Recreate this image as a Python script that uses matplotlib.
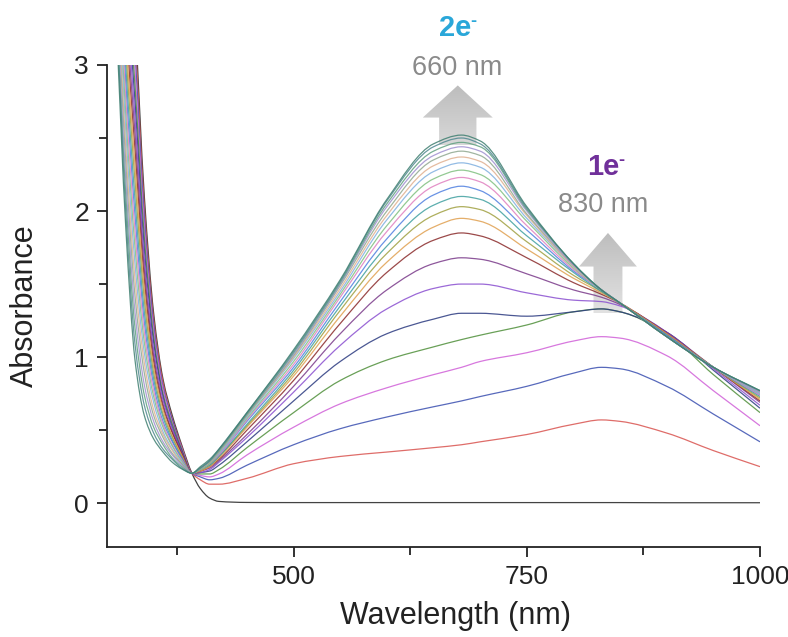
import numpy as np
import matplotlib
matplotlib.use('Agg')
import matplotlib.pyplot as plt
from matplotlib.patches import Polygon, PathPatch
from matplotlib.path import Path
from matplotlib.colors import LinearSegmentedColormap
from matplotlib.ticker import FixedLocator

plt.rcParams['font.family'] = ['Liberation Sans', 'DejaVu Sans']

# wavelength grid (nm); UV part ends at the isosbestic point
wl_uv = [300, 310, 320, 330, 340, 350, 360, 370, 380, 391]
wl_vis = [400, 410, 420, 450, 500, 550, 600, 650, 680, 700, 750, 800, 830, 850, 900, 950, 1000]

# absorbance of each spectrum, first (black) to last
uv_abs = [
    [6.0, 5.2, 4.20, 3.30, 2.10, 1.30, 0.85, 0.60, 0.40, 0.205],
    [5.9, 5.1, 4.09, 3.19, 2.03, 1.26, 0.83, 0.58, 0.39, 0.205],
    [5.8, 5.0, 3.98, 3.08, 1.96, 1.22, 0.80, 0.57, 0.38, 0.205],
    [5.7, 4.9, 3.87, 2.97, 1.89, 1.18, 0.78, 0.55, 0.38, 0.205],
    [5.7, 4.8, 3.76, 2.86, 1.82, 1.14, 0.75, 0.54, 0.37, 0.205],
    [5.6, 4.7, 3.65, 2.75, 1.74, 1.10, 0.73, 0.52, 0.36, 0.205],
    [5.5, 4.6, 3.54, 2.64, 1.67, 1.05, 0.71, 0.51, 0.35, 0.205],
    [5.5, 4.6, 3.43, 2.53, 1.60, 1.01, 0.68, 0.49, 0.35, 0.205],
    [5.4, 4.5, 3.32, 2.42, 1.53, 0.97, 0.66, 0.48, 0.34, 0.205],
    [5.3, 4.4, 3.21, 2.31, 1.46, 0.93, 0.64, 0.46, 0.33, 0.205],
    [5.3, 4.3, 3.11, 2.20, 1.39, 0.89, 0.61, 0.45, 0.32, 0.205],
    [5.2, 4.2, 3.00, 2.08, 1.31, 0.85, 0.59, 0.43, 0.31, 0.205],
    [5.1, 4.1, 2.89, 1.97, 1.24, 0.81, 0.56, 0.42, 0.31, 0.205],
    [5.1, 4.0, 2.78, 1.86, 1.17, 0.77, 0.54, 0.40, 0.30, 0.205],
    [5.0, 3.9, 2.67, 1.75, 1.10, 0.73, 0.52, 0.39, 0.29, 0.205],
    [5.0, 3.8, 2.56, 1.64, 1.03, 0.69, 0.49, 0.37, 0.28, 0.205],
    [4.9, 3.7, 2.45, 1.53, 0.96, 0.64, 0.47, 0.36, 0.27, 0.205],
    [4.9, 3.6, 2.34, 1.42, 0.89, 0.60, 0.45, 0.34, 0.27, 0.205],
    [4.9, 3.5, 2.23, 1.31, 0.81, 0.56, 0.42, 0.33, 0.26, 0.205],
    [4.8, 3.4, 2.12, 1.20, 0.74, 0.52, 0.40, 0.31, 0.25, 0.205],
    [4.8, 3.4, 2.01, 1.09, 0.67, 0.48, 0.37, 0.30, 0.24, 0.205],
    [4.8, 3.3, 1.90, 0.98, 0.60, 0.44, 0.35, 0.28, 0.235, 0.205],
]

vis_abs = [
    [0.10, 0.035, 0.012, 0.005, 0.004, 0.004, 0.004, 0.004, 0.004, 0.004, 0.004, 0.004, 0.004, 0.004, 0.003, 0.003, 0.003],
    [0.16, 0.13, 0.13, 0.17, 0.27, 0.32, 0.35, 0.38, 0.40, 0.42, 0.47, 0.54, 0.57, 0.56, 0.48, 0.36, 0.25],
    [0.18, 0.16, 0.17, 0.26, 0.40, 0.51, 0.59, 0.66, 0.70, 0.73, 0.80, 0.89, 0.93, 0.92, 0.80, 0.61, 0.42],
    [0.19, 0.18, 0.20, 0.33, 0.52, 0.68, 0.79, 0.88, 0.93, 0.97, 1.03, 1.11, 1.14, 1.13, 1.01, 0.77, 0.53],
    [0.20, 0.20, 0.23, 0.38, 0.62, 0.84, 0.98, 1.07, 1.12, 1.15, 1.22, 1.31, 1.33, 1.31, 1.16, 0.88, 0.62],
    [0.21, 0.22, 0.26, 0.42, 0.70, 0.97, 1.16, 1.26, 1.30, 1.30, 1.28, 1.31, 1.33, 1.31, 1.17, 0.91, 0.65],
    [0.21, 0.23, 0.28, 0.45, 0.76, 1.08, 1.33, 1.47, 1.50, 1.50, 1.44, 1.39, 1.38, 1.35, 1.17, 0.92, 0.67],
    [0.22, 0.24, 0.29, 0.47, 0.80, 1.16, 1.46, 1.64, 1.68, 1.67, 1.57, 1.46, 1.41, 1.36, 1.17, 0.93, 0.69],
    [0.22, 0.25, 0.30, 0.50, 0.84, 1.23, 1.58, 1.80, 1.85, 1.83, 1.68, 1.51, 1.43, 1.37, 1.16, 0.93, 0.70],
    [0.22, 0.25, 0.31, 0.52, 0.87, 1.28, 1.65, 1.89, 1.95, 1.93, 1.74, 1.54, 1.44, 1.37, 1.16, 0.93, 0.71],
    [0.23, 0.26, 0.32, 0.53, 0.89, 1.32, 1.71, 1.97, 2.03, 2.01, 1.79, 1.56, 1.45, 1.37, 1.15, 0.93, 0.72],
    [0.23, 0.26, 0.32, 0.54, 0.91, 1.35, 1.76, 2.04, 2.10, 2.08, 1.83, 1.58, 1.45, 1.37, 1.15, 0.93, 0.73],
    [0.23, 0.27, 0.33, 0.56, 0.93, 1.38, 1.81, 2.11, 2.17, 2.14, 1.87, 1.59, 1.46, 1.37, 1.15, 0.93, 0.74],
    [0.23, 0.27, 0.33, 0.57, 0.95, 1.41, 1.86, 2.17, 2.23, 2.20, 1.90, 1.60, 1.46, 1.37, 1.14, 0.93, 0.74],
    [0.23, 0.27, 0.34, 0.58, 0.97, 1.43, 1.90, 2.22, 2.28, 2.25, 1.93, 1.61, 1.46, 1.37, 1.14, 0.93, 0.75],
    [0.24, 0.28, 0.34, 0.59, 0.99, 1.45, 1.94, 2.27, 2.33, 2.30, 1.95, 1.62, 1.46, 1.37, 1.14, 0.93, 0.75],
    [0.24, 0.28, 0.35, 0.60, 1.00, 1.47, 1.97, 2.31, 2.37, 2.34, 1.97, 1.62, 1.46, 1.37, 1.14, 0.93, 0.76],
    [0.24, 0.28, 0.35, 0.60, 1.01, 1.49, 2.00, 2.35, 2.41, 2.38, 1.98, 1.63, 1.46, 1.37, 1.14, 0.93, 0.76],
    [0.24, 0.29, 0.36, 0.61, 1.02, 1.50, 2.03, 2.38, 2.44, 2.41, 2.00, 1.63, 1.46, 1.37, 1.14, 0.93, 0.76],
    [0.24, 0.29, 0.36, 0.61, 1.03, 1.51, 2.05, 2.41, 2.47, 2.44, 2.01, 1.64, 1.46, 1.37, 1.14, 0.93, 0.77],
    [0.24, 0.29, 0.37, 0.62, 1.04, 1.52, 2.07, 2.44, 2.50, 2.46, 2.02, 1.64, 1.46, 1.37, 1.14, 0.93, 0.77],
    [0.25, 0.30, 0.37, 0.62, 1.05, 1.53, 2.08, 2.46, 2.52, 2.48, 2.03, 1.64, 1.46, 1.37, 1.14, 0.93, 0.77],
]

line_colors = ['#222222', '#d9534f', '#3a4fb0', '#d060d8', '#4f8f3a', '#2b3a80',
               '#8a4fd0', '#7a3a8a', '#8a2a2a', '#e0a050', '#a0a040', '#40a0a0',
               '#5080e0', '#e080c0', '#80c080', '#80b0e0', '#e0b090', '#90a890',
               '#a090d0', '#60a080', '#508890', '#3f7f70']

x_ticks = [500, 750, 1000]
x_minor = [375, 625, 875]
y_ticks = [0, 1, 2, 3]
y_minor = [0.5, 1.5, 2.5]


def smooth_path(x, y):
    # cubic bezier through the points, monotone (pchip-style) tangents
    x = np.asarray(x, float)
    y = np.asarray(y, float)
    h = np.diff(x)
    d = np.diff(y) / h
    m = np.zeros_like(y)
    m[0], m[-1] = d[0], d[-1]
    for k in range(1, len(x) - 1):
        if d[k - 1] * d[k] > 0:
            w1 = 2 * h[k] + h[k - 1]
            w2 = h[k] + 2 * h[k - 1]
            m[k] = (w1 + w2) / (w1 / d[k - 1] + w2 / d[k])
    verts = [(x[0], y[0])]
    codes = [Path.MOVETO]
    for k in range(len(x) - 1):
        verts += [(x[k] + h[k] / 3, y[k] + m[k] * h[k] / 3),
                  (x[k + 1] - h[k] / 3, y[k + 1] - m[k + 1] * h[k] / 3),
                  (x[k + 1], y[k + 1])]
        codes += [Path.CURVE4] * 3
    return Path(verts, codes)


def block_arrow(ax, xc, y0, y_neck, y_tip, shaft_hw, head_hw, c_top, c_bot):
    pts = [(xc - shaft_hw, y0), (xc - shaft_hw, y_neck), (xc - head_hw, y_neck),
           (xc, y_tip), (xc + head_hw, y_neck), (xc + shaft_hw, y_neck),
           (xc + shaft_hw, y0)]
    poly = Polygon(pts, closed=True, facecolor='none', edgecolor='none')
    ax.add_patch(poly)
    grad = np.linspace(0, 1, 256)[:, None]
    cmap = LinearSegmentedColormap.from_list('arrow_grey', [c_bot, c_top])
    im = ax.imshow(grad, extent=(xc - head_hw, xc + head_hw, y0, y_tip),
                   origin='lower', cmap=cmap, aspect='auto', zorder=1,
                   interpolation='bilinear')
    im.set_clip_path(poly)


def charge_label(ax, x, y, n, color):
    ax.text(x, y, n + 'e', color=color, fontsize=21, fontweight='bold',
            ha='center', va='center', clip_on=False)
    ax.annotate('-', xy=(x, y), xycoords='data', xytext=(13, 5),
                textcoords='offset points', color=color, fontsize=13,
                fontweight='bold', ha='center', va='center',
                annotation_clip=False)


fig = plt.figure(figsize=(7.88, 6.37), dpi=100)
ax = fig.add_axes([0.1358, 0.1413, 0.8287, 0.7567])

wl = wl_uv + wl_vis
for uv, vis, col in zip(uv_abs, vis_abs, line_colors):
    ax.add_patch(PathPatch(smooth_path(wl, uv + vis), fill=False,
                           edgecolor=col, lw=0.9, alpha=0.85, zorder=3))

block_arrow(ax, 676, 2.45, 2.64, 2.86, 20, 37.5, '#bdbdbd', '#d8d8d8')
block_arrow(ax, 837, 1.30, 1.62, 1.85, 15.5, 31, '#bdbdbd', '#e2e2e2')

ax.set_xlim(300, 1000)
ax.set_ylim(-0.3, 3)

charge_label(ax, 673, 3.25, '2', '#2aa7d9')
ax.text(675, 2.98, '660 nm', color='#8a8a8a', fontsize=19.5,
        ha='center', va='center', clip_on=False)
charge_label(ax, 832, 2.30, '1', '#70309a')
ax.text(832, 2.04, '830 nm', color='#8a8a8a', fontsize=19.5,
        ha='center', va='center', clip_on=False)

for side in ['top', 'right']:
    ax.spines[side].set_visible(False)
for side in ['left', 'bottom']:
    ax.spines[side].set_linewidth(1.3)
    ax.spines[side].set_color('#222222')

ax.xaxis.set_major_locator(FixedLocator(x_ticks))
ax.xaxis.set_minor_locator(FixedLocator(x_minor))
ax.yaxis.set_major_locator(FixedLocator(y_ticks))
ax.yaxis.set_minor_locator(FixedLocator(y_minor))
ax.tick_params(which='major', direction='out', length=7, width=1.3,
               color='#222222', labelsize=19, labelcolor='#222222', pad=6)
ax.tick_params(which='minor', direction='out', length=6, width=1.3,
               color='#222222')

ax.set_xlabel('Wavelength (nm)', fontsize=22, color='#222222')
ax.set_ylabel('Absorbance', fontsize=22, color='#222222')
ax.xaxis.set_label_coords(0.534, -0.112)
ax.yaxis.set_label_coords(-0.103, 0.5)

fig.savefig('out.png', dpi=100)
